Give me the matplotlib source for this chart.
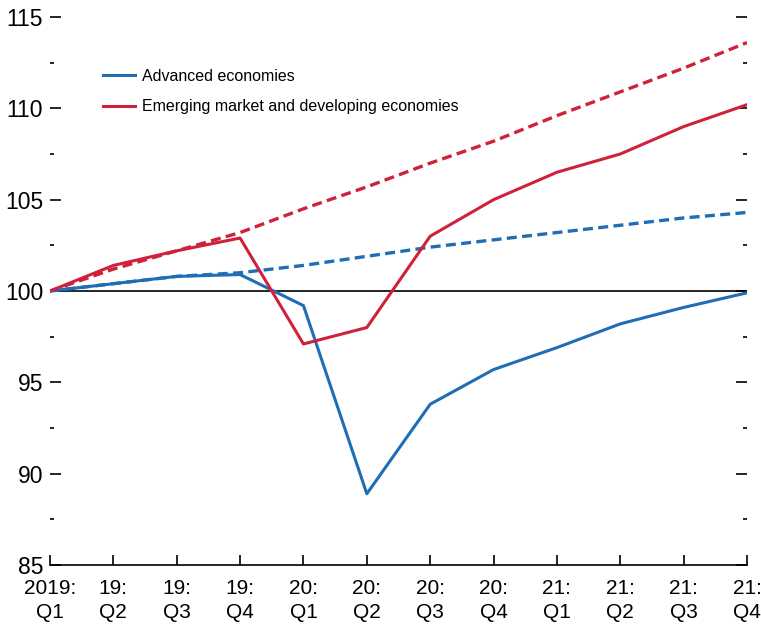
import numpy as np
import matplotlib
matplotlib.use("Agg")
import matplotlib.pyplot as plt
from matplotlib.ticker import MultipleLocator

plt.rcParams['font.family'] = ['Liberation Sans Narrow', 'Liberation Sans', 'DejaVu Sans']

# quarters 2019:Q1 .. 2021:Q4
quarters = ["2019:\nQ1", "19:\nQ2", "19:\nQ3", "19:\nQ4",
            "20:\nQ1", "20:\nQ2", "20:\nQ3", "20:\nQ4",
            "21:\nQ1", "21:\nQ2", "21:\nQ3", "21:\nQ4"]

# current projections
adv_now = [100, 100.4, 100.8, 100.9, 99.2, 88.9, 93.8, 95.7, 96.9, 98.2, 99.1, 99.9]
eme_now = [100, 101.4, 102.2, 102.9, 97.1, 98.0, 103.0, 105.0, 106.5, 107.5, 109.0, 110.2]
# pre-crisis projections (dashed)
adv_pre = [100, 100.4, 100.8, 101.0, 101.4, 101.9, 102.4, 102.8, 103.2, 103.6, 104.0, 104.3]
eme_pre = [100, 101.2, 102.2, 103.2, 104.5, 105.7, 107.0, 108.2, 109.6, 110.9, 112.2, 113.6]

blue = "#1f6db5"
red = "#d0213c"

x = np.arange(len(quarters))

fig = plt.figure(figsize=(7.61, 6.26), dpi=100)
ax = fig.add_axes([50 / 761, 61 / 626, 697 / 761, 548 / 626])

ax.axhline(100, color="black", lw=1.2, zorder=1)
ax.plot(x, adv_pre, color=blue, lw=2.4, ls=(0, (3, 1.6)), zorder=2)
ax.plot(x, eme_pre, color=red, lw=2.4, ls=(0, (3, 1.6)), zorder=2)
ax.plot(x, adv_now, color=blue, lw=2.2, label="Advanced economies", zorder=3)
ax.plot(x, eme_now, color=red, lw=2.2, label="Emerging market and developing economies", zorder=3)

ax.set_xlim(0, len(quarters) - 1)
ax.set_ylim(85, 115)
ax.set_xticks(x)
ax.set_xticklabels(quarters, fontsize=15, linespacing=1.35)
ax.yaxis.set_major_locator(MultipleLocator(5))
ax.yaxis.set_minor_locator(MultipleLocator(2.5))
ax.tick_params(axis="y", which="major", direction="in", length=8, width=1.2,
               left=True, right=True, labelsize=16.5, pad=5)
ax.tick_params(axis="y", which="minor", direction="in", length=3, width=1.2,
               left=True, right=True)
ax.tick_params(axis="x", direction="in", length=7, width=1.2, labelsize=15, pad=10)
for lab in ax.get_yticklabels():
    lab.set_verticalalignment("center_baseline")

for s in ["left", "right", "top"]:
    ax.spines[s].set_visible(False)
ax.spines["bottom"].set_linewidth(1.2)

leg = ax.legend(loc="upper left", bbox_to_anchor=((103 - 50) / 697, 0.905), frameon=False,
                fontsize=11.5, handlelength=2.0, handletextpad=0.45, labelspacing=0.95,
                borderpad=0, borderaxespad=0)

fig.savefig("out.png", dpi=100)
